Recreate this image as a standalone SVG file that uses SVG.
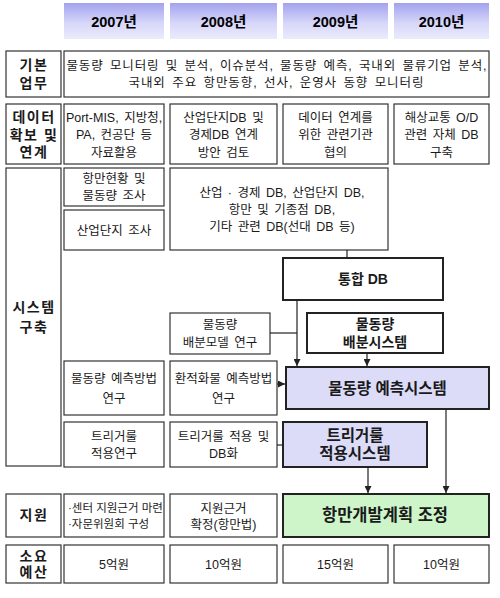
<svg xmlns="http://www.w3.org/2000/svg" width="500" height="598" viewBox="0 0 500 598">
<defs>
<linearGradient id="hg" x1="0" y1="0" x2="0" y2="1">
<stop offset="0" stop-color="#a2a2ee"/>
<stop offset="0.55" stop-color="#d6d6f9"/>
<stop offset="1" stop-color="#ebebfd"/>
</linearGradient>
<marker id="ar" markerWidth="7" markerHeight="7" refX="7" refY="3.5" orient="auto" markerUnits="userSpaceOnUse">
<path d="M0,0 L7,3.5 L0,7 z" fill="#222"/>
</marker>
<style>
.b{fill:#fff;stroke:#333;stroke-width:1.2}
.k{fill:#fff;stroke:#222;stroke-width:2}
.lv{fill:#dcdcf9;stroke:#222;stroke-width:2}
.gr{fill:#cdf5c9;stroke:#222;stroke-width:2}
.hd{fill:url(#hg)}
text{font-family:"Liberation Sans","Noto Sans CJK KR",sans-serif;fill:#1a1a1a;text-anchor:middle}
.t{font-size:12.5px;word-spacing:2px}
.s{font-size:11.5px}
.m{font-size:12.5px}
.h{font-size:14.5px;font-weight:bold;fill:#000}
.lb{font-size:14px;font-weight:bold;letter-spacing:1.5px}
.bb{font-size:14px;font-weight:bold}
.bx{font-size:15.5px;font-weight:bold}
.c{stroke:#222;stroke-width:1.2;fill:none}
</style>
</defs>

<g id="headers">
<g id="h2007"><rect class="hd" x="64" y="3" width="100" height="36"/><text class="h" x="114" y="27">2007년</text></g>
<g id="h2008"><rect class="hd" x="170" y="3" width="107" height="36"/><text class="h" x="223.5" y="27">2008년</text></g>
<g id="h2009"><rect class="hd" x="283" y="3" width="105" height="36"/><text class="h" x="335.5" y="27">2009년</text></g>
<g id="h2010"><rect class="hd" x="394" y="3" width="95" height="36"/><text class="h" x="441.5" y="27">2010년</text></g>
</g>

<g id="row-basic">
<g id="lbl-basic"><rect class="b" x="6" y="51" width="55" height="46"/><text class="lb" x="34" y="70">기본</text><text class="lb" x="34" y="88">업무</text></g>
<g id="basic-content"><rect class="b" x="64" y="51" width="425" height="46"/>
<text class="t" x="276.5" y="69.5" textLength="420" lengthAdjust="spacing">물동량 모니터링 및 분석, 이슈분석, 물동량 예측, 국내외 물류기업 분석,</text>
<text class="t" x="276" y="86.5" textLength="295" lengthAdjust="spacing">국내외 주요 항만동향, 선사, 운영사 동향 모니터링</text></g>
</g>

<g id="row-data">
<g id="lbl-data"><rect class="b" x="6" y="104" width="55" height="60"/><text class="lb" x="34" y="122">데이터</text><text class="lb" x="34" y="140">확보 및</text><text class="lb" x="34" y="157">연계</text></g>
<g id="d2007"><rect class="b" x="64" y="104" width="100" height="60"/><text class="t" x="114" y="121.5">Port-MIS, 지방청,</text><text class="t" x="114" y="139">PA, 컨공단 등</text><text class="t" x="114" y="156.5">자료활용</text></g>
<g id="d2008"><rect class="b" x="170" y="104" width="107" height="60"/><text class="t" x="223.5" y="121.5">산업단지DB 및</text><text class="t" x="223.5" y="139">경제DB 연계</text><text class="t" x="223.5" y="156.5">방안 검토</text></g>
<g id="d2009"><rect class="b" x="283" y="104" width="105" height="60"/><text class="t" x="335.5" y="121.5">데이터 연계를</text><text class="t" x="335.5" y="139">위한 관련기관</text><text class="t" x="335.5" y="156.5">협의</text></g>
<g id="d2010"><rect class="b" x="394" y="104" width="95" height="60"/><text class="t" x="441.5" y="121.5">해상교통 O/D</text><text class="t" x="441.5" y="139">관련 자체 DB</text><text class="t" x="441.5" y="156.5">구축</text></g>
</g>

<g id="row-system">
<g id="lbl-system"><rect class="b" x="6" y="168" width="55" height="298"/><text class="lb" x="34" y="312">시스템</text><text class="lb" x="34" y="332">구축</text></g>
<g id="s-survey"><rect class="b" x="64" y="168" width="100" height="38"/><text class="t" x="114" y="182.5">항만현황 및</text><text class="t" x="114" y="200">물동량 조사</text></g>
<g id="s-industry"><rect class="b" x="64" y="210" width="100" height="40"/><text class="t" x="114" y="234.5">산업단지 조사</text></g>
<g id="s-dbs"><rect class="b" x="170" y="168" width="218" height="82"/><text class="t" x="282" y="196.5">산업 · 경제 DB, 산업단지 DB,</text><text class="t" x="282" y="213.5">항만 및 기종점 DB,</text><text class="t" x="282" y="231">기타 관련 DB(선대 DB 등)</text></g>
<g id="s-integrated"><rect class="k" x="283" y="258" width="160" height="42"/><text class="bb" x="363" y="284">통합 DB</text></g>
<g id="s-distmodel"><rect class="b" x="170" y="313" width="100" height="41"/><text class="t" x="220" y="328.5">물동량</text><text class="t" x="220" y="346.5">배분모델 연구</text></g>
<g id="s-distsys"><rect class="k" x="307" y="313" width="136" height="40"/><text class="bb" x="375" y="329">물동량</text><text class="bb" x="375" y="347">배분시스템</text></g>
<g id="s-fcmethod"><rect class="b" x="64" y="361" width="100" height="54"/><text class="t" x="114" y="383">물동량 예측방법</text><text class="t" x="114" y="402.5">연구</text></g>
<g id="s-tsmethod"><rect class="b" x="170" y="361" width="107" height="54"/><text class="t" x="223.5" y="383">환적화물 예측방법</text><text class="t" x="223.5" y="402.5">연구</text></g>
<g id="s-fcsys"><rect class="lv" x="286" y="367" width="203" height="42"/><text class="bx" x="387.5" y="393.5">물동량 예측시스템</text></g>
<g id="s-trigstudy"><rect class="b" x="64" y="422" width="100" height="45"/><text class="t" x="114" y="440.5">트리거룰</text><text class="t" x="114" y="458">적용연구</text></g>
<g id="s-trigdb"><rect class="b" x="170" y="422" width="107" height="45"/><text class="t" x="223.5" y="440.5">트리거룰 적용 및</text><text class="t" x="223.5" y="458">DB화</text></g>
<g id="s-trigsys"><rect class="lv" x="283" y="422" width="144" height="45"/><text class="bx" x="355" y="441">트리거룰</text><text class="bx" x="355" y="459">적용시스템</text></g>
</g>

<g id="row-support">
<g id="lbl-support"><rect class="b" x="6" y="494" width="55" height="43"/><text class="lb" x="34" y="520">지원</text></g>
<g id="sp2007"><rect class="b" x="64" y="494" width="100" height="43"/><text class="s" x="68" y="512" style="text-anchor:start">·센터 지원근거 마련</text><text class="s" x="68" y="527.5" style="text-anchor:start">·자문위원회 구성</text></g>
<g id="sp2008"><rect class="b" x="170" y="494" width="107" height="43"/><text class="t" x="223.5" y="512.5">지원근거</text><text class="t" x="223.5" y="528.5">확정(항만법)</text></g>
<g id="sp-plan"><rect class="gr" x="283" y="494" width="206" height="43"/><text class="bx" x="385" y="521" style="font-size:16.5px">항만개발계획 조정</text></g>
</g>

<g id="row-budget">
<g id="lbl-budget"><rect class="b" x="6" y="545" width="55" height="38"/><text class="lb" x="34" y="561">소요</text><text class="lb" x="34" y="577">예산</text></g>
<g id="bu2007"><rect class="b" x="64" y="545" width="100" height="38"/><text class="m" x="114" y="569">5억원</text></g>
<g id="bu2008"><rect class="b" x="170" y="545" width="107" height="38"/><text class="m" x="223.5" y="569">10억원</text></g>
<g id="bu2009"><rect class="b" x="283" y="545" width="105" height="38"/><text class="m" x="335.5" y="569">15억원</text></g>
<g id="bu2010"><rect class="b" x="394" y="545" width="95" height="38"/><text class="m" x="441.5" y="569">10억원</text></g>
</g>

<g id="connectors">
<line class="c" x1="347" y1="250" x2="347" y2="258"/>
<line class="c" x1="297" y1="300" x2="297" y2="366" marker-end="url(#ar)"/>
<line class="c" x1="270" y1="333" x2="297" y2="333"/>
<line class="c" x1="367" y1="353" x2="367" y2="366" marker-end="url(#ar)"/>
<line class="c" x1="277" y1="384" x2="285" y2="384" marker-end="url(#ar)"/>
<line class="c" x1="277" y1="445" x2="283" y2="445"/>
<line class="c" x1="446" y1="409" x2="446" y2="493" marker-end="url(#ar)"/>
<line class="c" x1="368" y1="467" x2="368" y2="493" marker-end="url(#ar)"/>
</g>
</svg>
